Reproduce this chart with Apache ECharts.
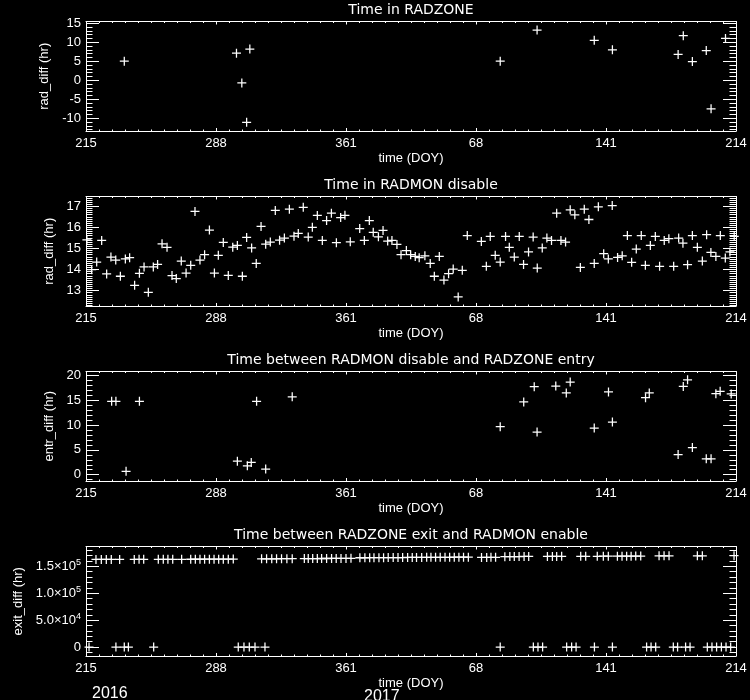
<!DOCTYPE html>
<html><head><meta charset="utf-8">
<script src="https://cdn.jsdelivr.net/npm/echarts@6/dist/echarts.min.js"></script>
<style>html,body{margin:0;padding:0;background:#000;}#c{width:750px;height:700px;}</style>
</head><body><div id="c"></div>
<script>
// ---------- DATA ----------
const panelTitles = ['Time in RADZONE', 'Time in RADMON disable', 'Time between RADMON disable and RADZONE entry', 'Time between RADZONE exit and RADMON enable'];
const yNames = ['rad_diff (hr)', 'rad_diff (hr)', 'entr_diff (hr)', 'exit_diff (hr)'];
const xTickValues = [215, 288, 361, 434, 507, 580];   // DOY 2016 continued into 2017 (leap year 366)
const xTickLabels = ['215', '288', '361', '68', '141', '214'];
const yearLabels = ['2016', '2017'];

// Panel 1: Time in RADZONE
const radzoneDoy = [236.5, 299.5, 302.5, 305.2, 307.0, 447.6, 468.3, 500.4, 510.6, 547.5, 550.4, 555.5, 563.3, 566.0, 574.1];
const radzoneVal = [5.0, 7.1, -0.7, -11.05, 8.2, 5.0, 13.2, 10.5, 8.0, 6.8, 11.7, 4.9, 7.8, -7.5, 11.0];

// Panel 2: Time in RADMON disable
const radmonDoy = [215.5, 218.2, 221.0, 223.8, 226.6, 229.0, 231.7, 234.3, 237.1, 239.5, 242.3, 245.0, 247.6, 250.0, 252.8, 255.2, 257.7, 260.5, 263.3, 265.7,
  268.5, 271.2, 273.8, 276.2, 279.0, 281.6, 284.3, 287.1, 289.3, 292.1, 294.9, 297.4, 300.0, 302.8, 305.2, 308.0, 310.6, 313.3, 315.9, 318.5,
  321.3, 323.7, 326.4, 329.2, 331.8, 334.2, 337.0, 339.8, 342.1, 344.9, 347.7, 350.1, 352.8, 355.6, 358.0, 360.4, 363.4, 368.7, 371.3, 374.1,
  376.3, 379.2, 381.8, 384.4, 386.8, 389.6, 391.9, 394.9, 397.3, 399.9, 402.1, 405.3, 408.3, 410.6, 413.4, 416.0, 418.6, 421.2, 424.0, 426.3,
  429.1, 437.0, 439.8, 442.0, 444.8, 447.6, 450.6, 452.7, 455.5, 458.3, 460.7, 463.5, 466.1, 468.4, 471.2, 473.8, 476.4, 479.3, 481.7, 484.3,
  486.9, 489.5, 492.6, 494.8, 497.4, 500.4, 502.7, 505.7, 508.3, 510.5, 513.5, 516.1, 519.0, 521.4, 524.0, 526.8, 529.1, 531.9, 534.7, 537.1,
  539.7, 542.3, 545.0, 547.8, 550.2, 552.8, 555.5, 558.3, 561.1, 563.5, 565.9, 568.7, 571.2, 574.0, 576.6, 579.0];
const radmonVal = [15.4, 13.99, 14.35, 15.38, 13.79, 14.59, 14.45, 13.68, 14.5, 14.56, 13.25, 13.82, 14.12, 12.92, 14.12, 14.24, 15.22, 15.05, 13.71, 13.57,
  14.4, 13.83, 14.2, 16.75, 14.45, 14.7, 15.87, 13.83, 14.67, 15.28, 13.72, 15.06, 15.14, 13.68, 15.52, 15.02, 14.29, 16.04, 15.2, 15.3,
  16.8, 15.39, 15.49, 16.86, 15.58, 15.71, 16.95, 15.54, 16.0, 16.56, 15.38, 16.32, 16.67, 15.27, 16.46, 16.57, 15.31, 15.94, 15.38, 16.32,
  15.76, 15.55, 15.85, 15.35, 15.38, 15.19, 14.7, 14.9, 14.7, 14.62, 14.56, 14.65, 14.29, 13.68, 14.62, 13.5, 13.8, 14.02, 12.7, 13.96,
  15.61, 15.33, 14.15, 15.57, 14.67, 14.35, 15.57, 15.05, 14.59, 15.57, 14.24, 14.83, 15.54, 14.07, 15.02, 15.49, 15.38, 16.67, 15.38, 15.3,
  16.83, 16.59, 14.1, 16.86, 16.37, 14.29, 16.97, 14.75, 14.5, 17.03, 14.57, 14.65, 15.61, 14.34, 14.97, 15.61, 14.2, 15.14, 15.57, 14.15,
  15.38, 15.46, 14.15, 15.49, 15.25, 14.23, 15.61, 15.05, 14.4, 15.65, 14.81, 14.62, 15.61, 14.54, 14.83, 15.57];

// Panel 3: Time between RADMON disable and RADZONE entry
const entryDoy = [229.4, 231.8, 237.5, 245.0, 300.0, 305.6, 307.8, 310.8, 315.9, 330.8, 447.6, 460.8, 466.7, 468.3, 478.8, 484.7, 486.9, 500.4, 508.4, 510.6,
  529.2, 531.3, 547.5, 550.4, 552.8, 555.5, 563.3, 566.0, 568.7, 571.1, 577.3];
const entryVal = [14.8, 14.8, 0.67, 14.8, 2.73, 1.8, 2.47, 14.8, 1.13, 15.7, 9.67, 14.67, 17.73, 8.6, 17.87, 16.47, 18.67, 9.4, 16.67, 10.6,
  15.53, 16.47, 4.07, 17.8, 19.13, 5.47, 3.2, 3.2, 16.33, 16.8, 16.27];

// Panel 4: Time between RADZONE exit and RADMON enable
const exitHighDoy = [220.6, 223.6, 226.4, 229.2, 233.9, 242.1, 244.8, 247.4,
  255.6, 258.4, 261.0, 263.7, 268.7, 273.8, 276.4, 279.0, 281.6, 284.3, 286.9, 289.5, 292.1, 294.9, 297.7,
  313.6, 316.4, 319.3, 322.0, 324.8, 327.8, 330.8,
  337.6, 339.8, 342.3, 344.9, 347.3, 350.1, 352.9, 355.5, 358.2, 361.0, 363.8,
  368.8, 371.6, 374.3, 376.7, 379.5, 382.1, 384.7, 387.5, 390.2, 392.8, 395.6, 398.2, 400.6, 403.5, 406.3, 408.7, 411.3, 413.9, 416.6, 419.2, 421.8, 424.4, 427.0, 429.7,
  437.1, 440.0, 442.4, 445.0,
  450.2, 453.0, 455.5, 458.2, 461.0, 463.6,
  474.1, 476.9, 479.3, 482.1,
  492.8, 495.6, 502.1, 505.5, 508.3, 513.4, 516.0, 518.6, 521.1, 523.7, 526.5,
  536.8, 539.6, 542.4, 558.3, 561.1, 578.9];
const exitHighVal = [162800, 162800, 162900, 162900, 162900, 162900, 163000, 163000,
  163000, 163000, 163100, 163100, 163100, 163200, 163200, 163200, 163300, 163300, 163300, 163400, 163400, 163400, 163500,
  164000, 164000, 164100, 164100, 164200, 164200, 164300,
  164400, 164400, 164500, 164500, 164600, 164600, 164700, 164700, 164800, 164800, 164900,
  166000, 166000, 166100, 166100, 166200, 166200, 166300, 166300, 166400, 166400, 166500, 166500, 166600, 166600, 166700, 166700, 166800, 166800, 166900, 166900, 167000, 167000, 167100, 167100,
  166600, 166600, 166700, 166700,
  168000, 168100, 168200, 168300, 168400, 168400,
  168400, 168500, 168500, 168600,
  168600, 168700, 168700, 168800, 168800, 168900, 168900, 169000, 169000, 169100, 169100,
  169500, 169600, 169600, 169700, 169700, 169800];
const exitZeroDoy = [216.7, 231.8, 236.5, 238.8, 253.0, 300.5, 303.7, 306.7, 309.9, 315.5, 447.6, 466.2, 468.8, 471.4, 484.9, 487.7, 490.2, 500.5, 510.6,
  529.8, 532.3, 534.9, 544.8, 547.2, 551.7, 554.2, 563.9, 566.5, 569.1, 571.8, 574.4, 577.0];
const exitZeroVal = [0, 0, 0, 0, 0, 0, 0, 0, 0, 0, 0, 0, 0, 0, 0, 0, 0, 0, 0, 0, 0, 0, 0, 0, 0, 0, 0, 0, 0, 0, 0, 0];

// y axis ranges and tick labels
const yRanges = [[-13.33, 15.44], [12.27, 17.46], [-1.27, 20.8], [-16600, 186900]];
const yMajorTicks = [[-10, -5, 0, 5, 10, 15], [13, 14, 15, 16, 17], [0, 5, 10, 15, 20], [0, 50000, 100000, 150000]];
const yMinorStep = [1, 0.1, 1, 10000];
const p4TickLabels = {0: '0', 50000: '{m|5.0×10}{e|4}', 100000: '{m|1.0×10}{e|5}', 150000: '{m|1.5×10}{e|5}'};

// ---------- CHART ----------
const FONT = 'Liberation Sans';
const WHITE = '#ffffff';
const xMin = xTickValues[0], xMax = xTickValues[xTickValues.length - 1];
const xStep = xTickValues[1] - xTickValues[0];
const PLUS = 'path://M4.3,0H5.7V10H4.3Z M0,4.3H10V5.7H0Z';

function minorList(r, step) {
  const out = [];
  const start = Math.ceil(r[0] / step - 1e-9);
  for (let k = start; k * step <= r[1] + 1e-9; k++) out.push(Math.round(k * step * 1000) / 1000);
  return out;
}
function xLabel(v) {
  const i = xTickValues.findIndex(t => Math.abs(t - v) < 0.01);
  return i >= 0 ? xTickLabels[i] : '';
}

const panelData = [
  [[radzoneDoy, radzoneVal]],
  [[radmonDoy, radmonVal]],
  [[entryDoy, entryVal]],
  [[exitHighDoy, exitHighVal], [exitZeroDoy, exitZeroVal]]
];
const nameGaps = [33, 25, 25, 58];

const grids = [], xAxes = [], yAxes = [], series = [], graphics = [];
for (let i = 0; i < 4; i++) {
  const top = 21.5 + 175 * i;
  grids.push({left: 86, width: 650, top: top, height: 109.5});
  const lineS = {color: WHITE, width: 1};
  const xb = xAxes.length;
  xAxes.push({
    type: 'value', gridIndex: i, position: 'bottom', min: xMin, max: xMax, interval: xStep,
    axisLine: {show: true, onZero: false, lineStyle: lineS},
    axisTick: {show: true, inside: true, length: 3, lineStyle: lineS},
    minorTick: {show: true, splitNumber: 10, length: 1.5, lineStyle: lineS},
    splitLine: {show: false}, minorSplitLine: {show: false},
    axisLabel: {color: WHITE, fontFamily: FONT, fontSize: 13, margin: 6, formatter: xLabel},
    name: 'time (DOY)', nameLocation: 'middle', nameGap: 21,
    nameTextStyle: {color: WHITE, fontFamily: FONT, fontSize: 13}
  });
  xAxes.push({
    type: 'value', gridIndex: i, position: 'top', min: xMin, max: xMax, interval: xStep,
    axisLine: {show: true, onZero: false, lineStyle: lineS},
    axisTick: {show: true, inside: true, length: 3, lineStyle: lineS},
    minorTick: {show: true, splitNumber: 10, length: 1.5, lineStyle: lineS},
    splitLine: {show: false}, minorSplitLine: {show: false},
    axisLabel: {show: false}
  });
  const r = yRanges[i];
  const majors = yMajorTicks[i];
  const minors = minorList(r, yMinorStep[i]);
  const yl = yAxes.length;
  const labelCfg = {
    color: WHITE, fontFamily: FONT, fontSize: 13, margin: 5,
    customValues: majors
  };
  if (i === 3) {
    labelCfg.formatter = v => p4TickLabels[v] !== undefined ? p4TickLabels[v] : '';
    labelCfg.rich = {
      m: {color: WHITE, fontFamily: FONT, fontSize: 13, lineHeight: 16},
      e: {color: WHITE, fontFamily: FONT, fontSize: 9, lineHeight: 16, verticalAlign: 'top', padding: [0, 0, 8, 0]}
    };
  } else {
    labelCfg.formatter = v => String(v);
  }
  ['left', 'right'].forEach(pos => {
    yAxes.push({
      type: 'value', gridIndex: i, position: pos, min: r[0], max: r[1],
      axisLine: {show: true, onZero: false, lineStyle: lineS},
      axisTick: {show: true, inside: true, length: 13, lineStyle: lineS, customValues: majors},
      splitLine: {show: false},
      axisLabel: pos === 'left' ? labelCfg : {show: false},
      name: pos === 'left' ? yNames[i] : '', nameLocation: 'middle', nameGap: nameGaps[i],
      nameTextStyle: {color: WHITE, fontFamily: FONT, fontSize: 13}
    });
    yAxes.push({
      type: 'value', gridIndex: i, position: pos, min: r[0], max: r[1],
      axisLine: {show: false, onZero: false},
      axisTick: {show: true, inside: true, length: 6.5, lineStyle: lineS, customValues: minors},
      splitLine: {show: false},
      axisLabel: {show: false}
    });
  });
  panelData[i].forEach(([xs, ys]) => {
    series.push({
      type: 'scatter', xAxisIndex: xb, yAxisIndex: yl,
      symbol: PLUS, symbolSize: 9,
      itemStyle: {color: WHITE, opacity: 1},
      silent: true, clip: false,
      data: xs.map((x, k) => [x, ys[k]])
    });
  });
  graphics.push({
    type: 'text', x: 411, y: 10.7 + 175 * i, silent: true,
    style: {text: panelTitles[i], fill: WHITE, font: '14px "DejaVu Sans"',
      align: 'center', verticalAlign: 'middle', textAlign: 'center', textVerticalAlign: 'middle'}
  });
}
graphics.push({type: 'text', x: 92, y: 694, silent: true,
  style: {text: yearLabels[0], fill: WHITE, font: '16px "Liberation Sans"', align: 'left', verticalAlign: 'middle', textAlign: 'left', textVerticalAlign: 'middle'}});
graphics.push({type: 'text', x: 364, y: 697, silent: true,
  style: {text: yearLabels[1], fill: WHITE, font: '16px "Liberation Sans"', align: 'left', verticalAlign: 'middle', textAlign: 'left', textVerticalAlign: 'middle'}});

const chart = echarts.init(document.getElementById('c'), null, {renderer: 'canvas'});
chart.setOption({
  backgroundColor: '#000000',
  animation: false,
  grid: grids,
  xAxis: xAxes,
  yAxis: yAxes,
  series: series,
  graphic: {elements: graphics}
});
</script>
</body></html>
